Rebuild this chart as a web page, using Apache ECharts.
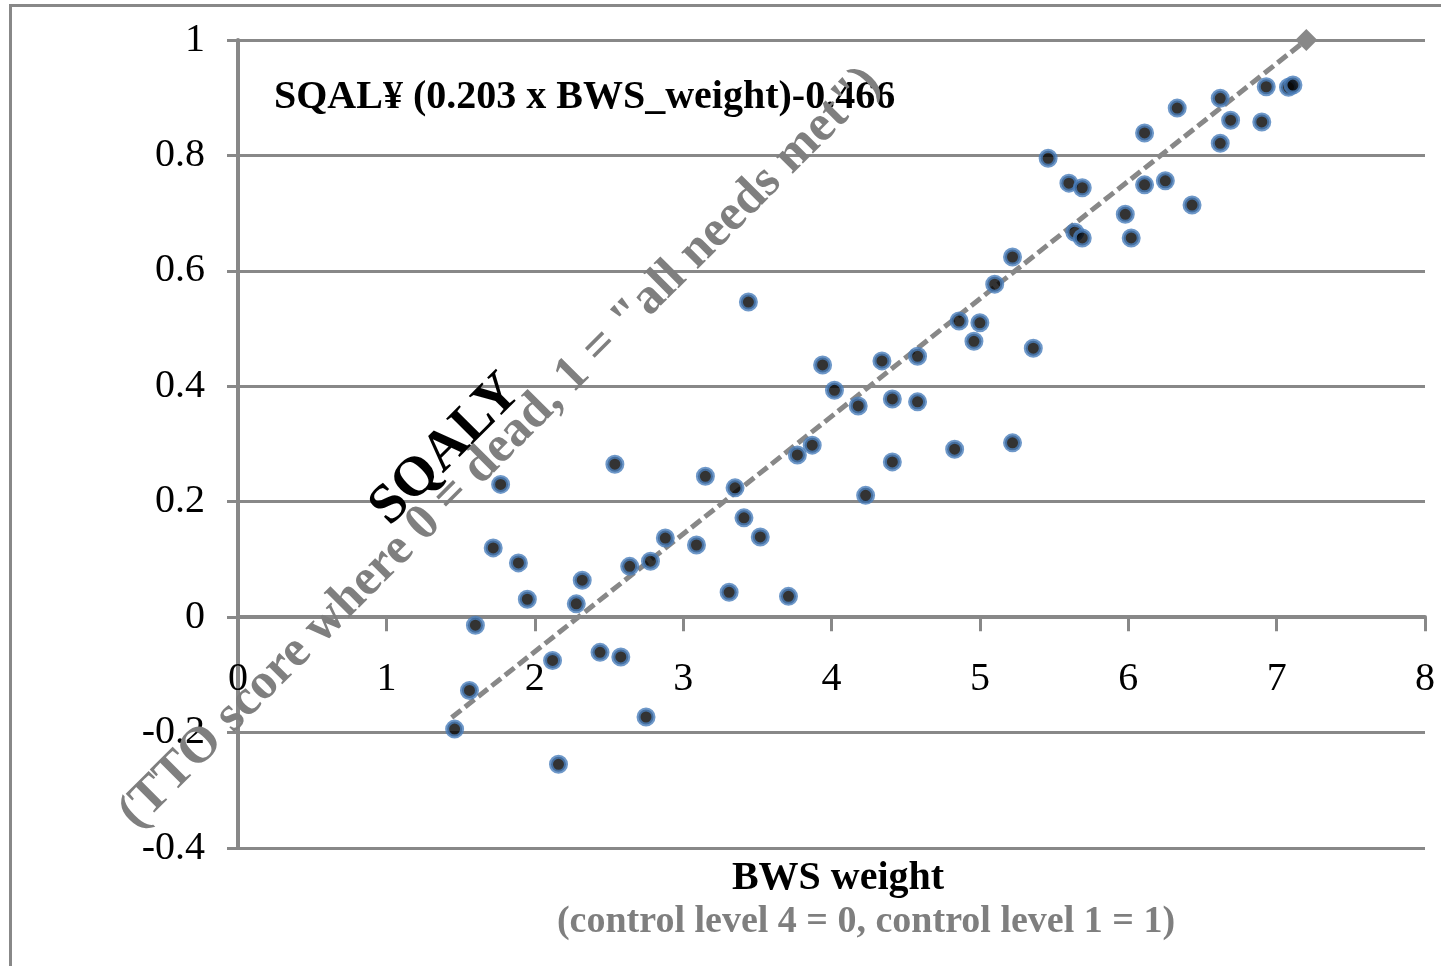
<!DOCTYPE html>
<html>
<head>
<meta charset="utf-8">
<title>SQALY vs BWS weight</title>
<script src="https://cdn.jsdelivr.net/npm/echarts@6/dist/echarts.min.js"></script>
<style>
  html, body { margin: 0; padding: 0; background: #fff; }
  #chart { width: 1441px; height: 966px; }
</style>
</head>
<body>
<div id="chart"></div>
<script>
// observed points (BWS weight, SQALY)
const bwsWeight = [
  1.46, 1.56, 1.60, 1.72, 1.77, 1.89, 1.95, 2.12, 2.16, 2.28,
  2.32, 2.44, 2.54, 2.58, 2.64, 2.75, 2.78, 2.88, 3.09, 3.15,
  3.31, 3.35, 3.41, 3.44, 3.52, 3.71, 3.77, 3.87, 3.94, 4.02,
  4.18, 4.23, 4.34, 4.41, 4.41, 4.58, 4.58, 4.83, 4.86, 4.96,
  5.00, 5.10, 5.22, 5.22, 5.36, 5.46, 5.60, 5.69, 5.64, 5.69,
  5.98, 6.02, 6.11, 6.11, 6.25, 6.33, 6.43, 6.62, 6.62, 6.69,
  6.90, 6.93, 7.08, 7.11
];
const sqaly = [
  -0.194, -0.127, -0.014, 0.120, 0.230, 0.094, 0.031, -0.075, -0.255, 0.023,
  0.064, -0.061, 0.265, -0.069, 0.088, -0.173, 0.097, 0.137, 0.125, 0.244,
  0.043, 0.224, 0.172, 0.546, 0.139, 0.036, 0.281, 0.298, 0.437, 0.393,
  0.366, 0.211, 0.444, 0.378, 0.269, 0.452, 0.373, 0.291, 0.513, 0.478,
  0.510, 0.577, 0.302, 0.624, 0.466, 0.795, 0.752, 0.744, 0.667, 0.657,
  0.698, 0.657, 0.839, 0.749, 0.756, 0.882, 0.714, 0.821, 0.899, 0.861,
  0.858, 0.919, 0.918, 0.922
];

// fitted line SQALY = 0.203 x BWS_weight - 0.466, ending at the anchor (7.2, 1)
const trendX = [1.44, 7.2];
const trendY = [-0.174, 1.0];

const xMin = 0, xMax = 8, xStep = 1;
const yMin = -0.4, yMax = 1, yStep = 0.2;

const equationText = 'SQAL\u00A5 (0.203 x BWS_weight)-0.466';
const yTitleMain = 'SQALY';
const yTitleSub = '(TTO score where 0 = dead, 1 = "all needs met")';
const xTitleMain = 'BWS weight';
const xTitleSub = '(control level 4 = 0, control level 1 = 1)';

const GREY = '#888888';
const SERIF = '"Liberation Serif", "Times New Roman", serif';

// x axis sits on y = 0: shift it up from the grid bottom by that distance
const gridTop = 40, gridBottom = 118, plotHeight = 966 - gridTop - gridBottom;
const zeroShift = plotHeight * (0 - yMin) / (yMax - yMin);

const chart = echarts.init(document.getElementById('chart'));

const points = bwsWeight.map((x, i) => [x, sqaly[i]]);
const trend = trendX.map((x, i) => (i === trendX.length - 1
  ? { value: [x, trendY[i]], symbol: 'diamond', symbolSize: 22 }
  : { value: [x, trendY[i]], symbol: 'none' }));

const option = {
  animation: false,
  backgroundColor: '#fff',
  grid: {
    left: 238,
    right: 16,
    top: gridTop,
    bottom: gridBottom,
    containLabel: false,
    outerBoundsMode: 'none'
  },
  xAxis: {
    type: 'value',
    min: xMin,
    max: xMax,
    interval: xStep,
    offset: -zeroShift,
    axisLine: { show: true, onZero: false, lineStyle: { color: GREY, width: 4 } },
    axisTick: { show: true, length: 14, lineStyle: { color: GREY, width: 3 } },
    axisLabel: { color: '#000', fontFamily: SERIF, fontSize: 40, margin: 42 },
    splitLine: { show: false }
  },
  yAxis: {
    type: 'value',
    min: yMin,
    max: yMax,
    interval: yStep,
    axisLine: { show: true, onZero: false, lineStyle: { color: GREY, width: 4 } },
    axisTick: { show: true, length: 11, lineStyle: { color: GREY, width: 3 } },
    axisLabel: {
      color: '#000', fontFamily: SERIF, fontSize: 40, margin: 33,
      formatter: v => String(+v.toFixed(1))
    },
    splitLine: { show: true, lineStyle: { color: GREY, width: 3 } }
  },
  series: [
    {
      name: 'trend',
      type: 'line',
      data: trend,
      z: 2,
      lineStyle: { color: GREY, width: 5, type: [12, 5] },
      itemStyle: { color: GREY },
      silent: true
    },
    {
      name: 'SQALY',
      type: 'scatter',
      data: points,
      z: 3,
      symbol: 'circle',
      symbolSize: 15,
      itemStyle: { color: '#000', borderColor: '#4A7EBB', borderWidth: 4 }
    }
  ],
  graphic: [
    {
      type: 'rect',
      z: 0,
      shape: { x: 10.5, y: 5.5, width: 1600, height: 1200 },
      style: { fill: 'none', stroke: GREY, lineWidth: 3 }
    },
    {
      type: 'text', z: 10, x: 274, y: 98,
      style: {
        text: equationText, fill: '#000', font: 'bold 40px ' + SERIF,
        textAlign: 'left', textVerticalAlign: 'middle'
      }
    },
    {
      type: 'text', z: 10, x: 500, y: 448, rotation: Math.PI / 4,
      style: {
        text: yTitleSub, fill: '#7f7f7f', font: 'bold 51px ' + SERIF,
        textAlign: 'center', textVerticalAlign: 'middle'
      }
    },
    {
      type: 'text', z: 11, x: 446, y: 450, rotation: Math.PI / 4,
      style: {
        text: yTitleMain, fill: '#000', font: 'bold 56px ' + SERIF,
        textAlign: 'center', textVerticalAlign: 'middle'
      }
    },
    {
      type: 'text', z: 10, x: 838, y: 879,
      style: {
        text: xTitleMain, fill: '#000', font: 'bold 40px ' + SERIF,
        textAlign: 'center', textVerticalAlign: 'middle'
      }
    },
    {
      type: 'text', z: 10, x: 866, y: 922,
      style: {
        text: xTitleSub, fill: '#7f7f7f', font: 'bold 38px ' + SERIF,
        textAlign: 'center', textVerticalAlign: 'middle'
      }
    }
  ]
};

chart.setOption(option);
window.addEventListener('resize', () => chart.resize());
</script>
</body>
</html>
